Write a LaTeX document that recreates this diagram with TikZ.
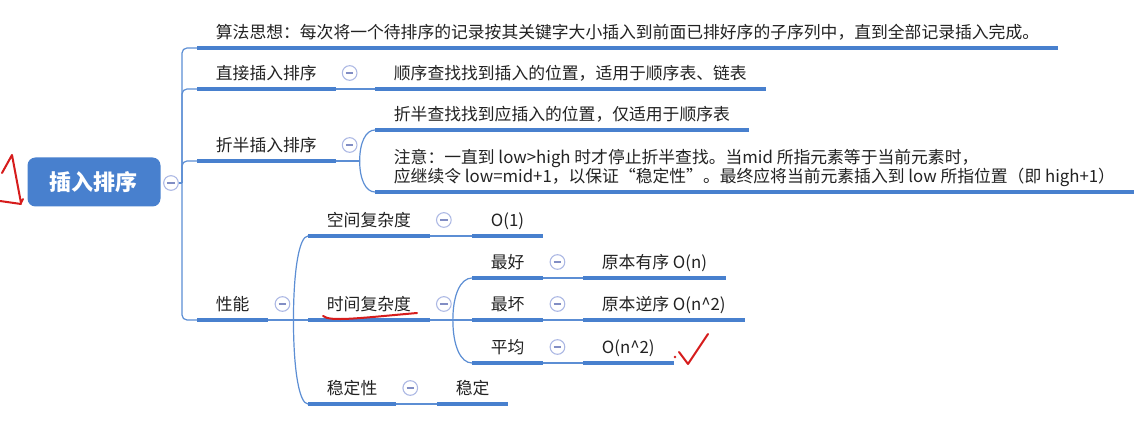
\documentclass[tikz,border=0pt]{standalone}
\usepackage{fontspec}
\setmainfont{Noto Sans CJK SC}
\usetikzlibrary{calc}
\definecolor{MapBlue}{RGB}{72,128,206}
\definecolor{LinkBlue}{RGB}{92,142,212}
\definecolor{FoldRing}{RGB}{172,184,228}
\definecolor{FoldMinus}{RGB}{130,142,196}
\definecolor{InkGray}{RGB}{34,34,34}
\definecolor{MarkRed}{RGB}{214,28,28}
\newcommand{\topicfont}{\fontsize{12.6}{14.25}\selectfont}
\newcommand{\rootfont}{\fontsize{16.5}{20}\selectfont\bfseries}
\tikzset{
  rootbox/.style={fill=MapBlue,rounded corners=6pt,inner sep=0pt,
    minimum width=99.75pt,minimum height=36.75pt,text=white,font=\rootfont},
  topic/.style={anchor=south west,inner xsep=14pt,inner ysep=4.75pt,
    text height=9pt,text depth=2.5pt,align=left,text=InkGray,font=\topicfont},
  bar/.style={draw=MapBlue,line width=3pt},
  link/.style={draw=LinkBlue,line width=0.9pt},
  fold/.style={circle,draw=FoldRing,fill=white,line width=0.8pt,
    minimum size=11pt,inner sep=0pt,
    path picture={\draw[FoldMinus,line width=0.9pt]
      ([xshift=-2.8pt]path picture bounding box.center) --
      ([xshift=2.8pt]path picture bounding box.center);}},
  redpen/.style={draw=MarkRed,line width=1.5pt,line cap=round,line join=round}
}
% bowed branch from a junction to a child's underline start
\newcommand{\bowlink}[2]{%
  \draw[link] (#1) .. controls ($(#1)!0.6!(#1 |- #2.south west)$)
    and ($(#2.south west)!0.6!(#1 |- #2.south west)$) .. (#2.south west);}

\begin{document}
\begin{tikzpicture}[x=0.75pt,y=-0.75pt]
  \fill[white] (0,0) rectangle (1143,427);
  \useasboundingbox (0,0) rectangle (1143,427);

  % root
  \node[rootbox] (root) at (94,182) {插入排序};
  \node[fold] (f0) at (171,183) {};
  \coordinate (j0) at (182,183);

  % first level
  \node[topic] (idea) at (197,48) {算法思想：每次将一个待排序的记录按其关键字大小插入到前面已排好序的子序列中，直到全部记录插入完成。};
  \node[topic] (zj) at (197,89) {直接插入排序};
  \node[topic] (zb) at (197,161) {折半插入排序};
  \node[topic] (xn) at (197,320) {性能};

  % second level
  \node[topic] (zj1) at (375,89) {顺序查找找到插入的位置，适用于顺序表、链表};
  \node[topic] (zb1) at (375,130) {折半查找找到应插入的位置，仅适用于顺序表};
  \node[topic] (zb2) at (375,192) {注意：一直到 low>high 时才停止折半查找。当mid 所指元素等于当前元素时，\\
    应继续令 low=mid+1，以保证“稳定性”。最终应将当前元素插入到 low 所指位置（即 high+1）};
  \node[topic] (kj) at (308,236) {空间复杂度};
  \node[topic] (sj) at (308,320) {时间复杂度};
  \node[topic] (wd) at (308,404) {稳定性};

  % third level
  \node[topic] (kj1) at (472,236) {O(1)};
  \node[topic] (best) at (472,278) {最好};
  \node[topic] (worst) at (472,320) {最坏};
  \node[topic] (avg) at (472,363) {平均};
  \node[topic] (wd1) at (437,404) {稳定};
  \node[topic] (best1) at (583,278) {原本有序 O(n)};
  \node[topic] (worst1) at (583,320) {原本逆序 O(n\textasciicircum2)};
  \node[topic] (avg1) at (583,363) {O(n\textasciicircum2)};

  % connectors
  \draw[link] (f0.east) -- (j0);
  \foreach \n in {idea,zj,zb,xn}
    \draw[link,rounded corners=3.75pt] (j0) |- (\n.south west);
  \draw[link] (zj.south east) -- (zj1.south west);
  \draw[link] (zb.south east) -- ++(24,0) coordinate (jb);
  \bowlink{jb}{zb1}
  \bowlink{jb}{zb2}
  \draw[link] (xn.south east) -- ++(25,0) coordinate (jx) -- (sj.south west);
  \bowlink{jx}{kj}
  \bowlink{jx}{wd}
  \draw[link] (sj.south east) -- ++(23,0) coordinate (js) -- (worst.south west);
  \bowlink{js}{best}
  \bowlink{js}{avg}
  \draw[link] (kj.south east) -- (kj1.south west);
  \draw[link] (wd.south east) -- (wd1.south west);
  \draw[link] (best.south east) -- (best1.south west);
  \draw[link] (worst.south east) -- (worst1.south west);
  \draw[link] (avg.south east) -- (avg1.south west);

  % underlines
  \foreach \n in {idea,zj,zb,xn,zj1,zb1,zb2,kj,sj,wd,kj1,best,worst,avg,wd1,best1,worst1,avg1}
    \draw[bar] (\n.south west) -- (\n.south east);

  % collapse buttons
  \foreach \n/\f in {zj/f1,zb/f2,xn/f3,kj/f4,sj/f5,wd/f6,best/f7,worst/f8,avg/f9}
    \node[fold] (\f) at ($(\n.south east)+(14,-16)$) {};

  % red pen marks
  \draw[redpen] (2,173) -- (12,155) -- (21,203) -- (23,199);
  \draw[redpen] (0,201) -- (21,204);
  \draw[redpen] (323,316) .. controls (330,322) and (360,318) .. (417,313);
  \fill[MarkRed] (675,357) circle (1.3);
  \draw[redpen] (679,352) -- (688,364) -- (708,334);
\end{tikzpicture}
\end{document}
